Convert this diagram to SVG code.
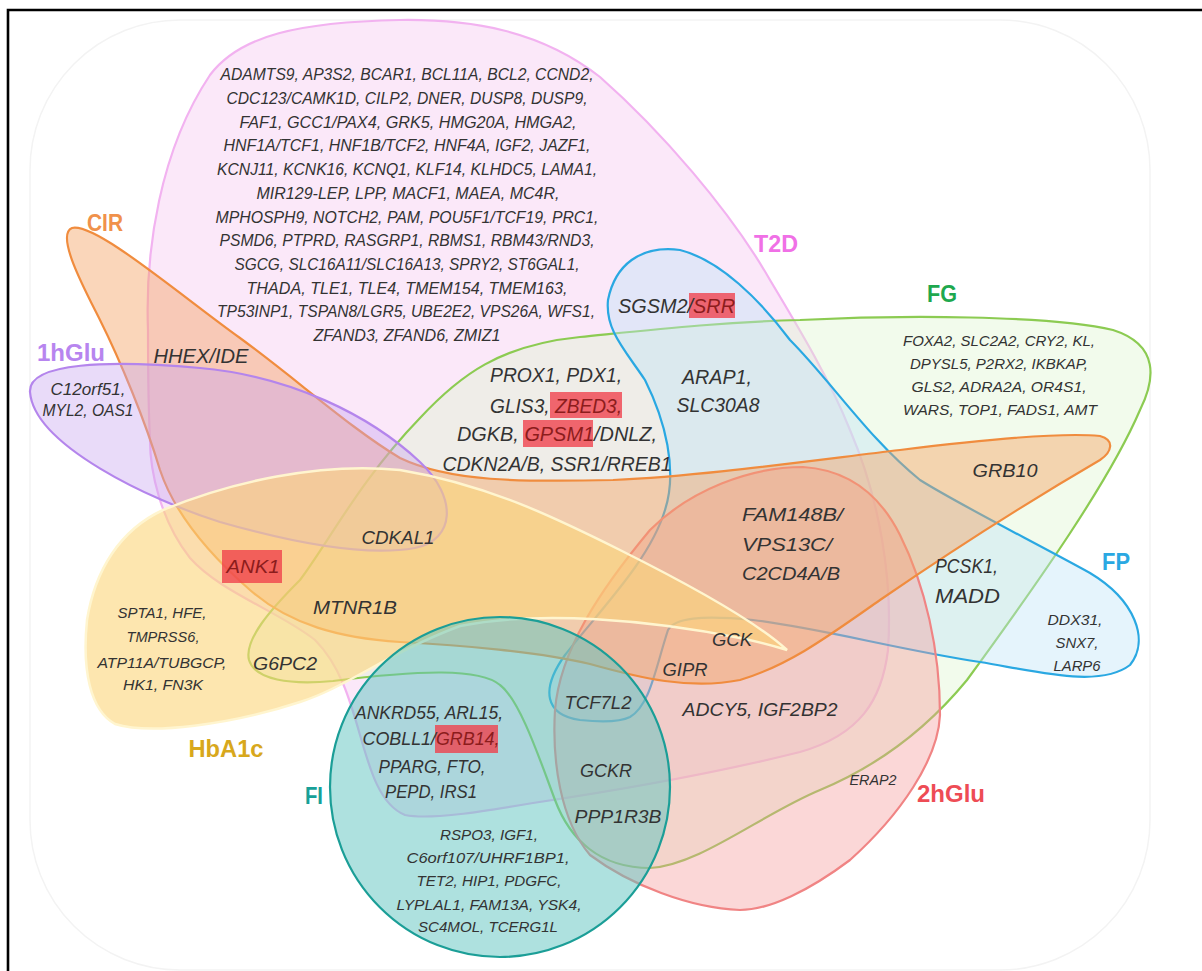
<svg xmlns="http://www.w3.org/2000/svg" width="1202" height="971" viewBox="0 0 1202 971">
<style>
.g{font-family:"Liberation Sans",Arial,sans-serif;font-style:italic;fill:#333}
.lab{font-family:"Liberation Sans",Arial,sans-serif;font-weight:bold}
.hl{fill:#ef3f4a;fill-opacity:0.78}
.ht{fill:#8c1c1c}
.set{stroke-width:2.2}
</style>
<rect x="0" y="0" width="1202" height="971" fill="#ffffff"/>
<rect x="30" y="20" width="1120" height="950" rx="150" fill="none" stroke="#f3f3f3" stroke-width="1.5"/>
<path d="M8,971 V10 H1202" fill="none" stroke="#000" stroke-width="2.6"/>

<g id="connectors"></g>

<g id="set-T2D">
<path class="set" d="M148,330 C145,250 160,150 210,75 C240,35 300,22 400,20 C470,19 540,30 600,77 C660,130 730,210 770,280 C800,330 830,380 850,430 C880,500 893,580 888,650 C882,700 860,735 800,752 C720,772 620,790 533,803 C480,812 430,820 405,815 C380,805 370,770 360,735 C350,700 340,665 315,640 C280,612 220,592 190,558 C160,520 150,470 150,440 C148,400 148,360 148,330 Z" fill="#f7d2f4" fill-opacity="0.5" stroke="#f2b2f0"/>
<text class="lab" x="776" y="252" font-size="24" text-anchor="middle" fill="#f070e6" textLength="44" lengthAdjust="spacingAndGlyphs">T2D</text>
</g>

<g id="set-FG">
<path class="set" d="M800,320 C900,315 1050,315 1113,330 C1160,345 1155,380 1140,410 C1110,480 1040,580 967,680 C930,725 880,765 820,790 C760,815 700,865 650,868 C600,868 570,840 555,800 C540,760 520,700 500,685 C480,668 420,670 333,681 C290,685 255,680 249,660 C244,640 270,610 300,580 C330,540 360,480 420,418 C460,375 500,345 580,337 C650,330 720,322 800,320 Z" fill="#dcf4cc" fill-opacity="0.38" stroke="#8ccb52"/>
<text class="lab" x="942" y="302" font-size="24" text-anchor="middle" fill="#1ea84e" textLength="30" lengthAdjust="spacingAndGlyphs">FG</text>
</g>

<g id="set-FP">
<path class="set" d="M630,717 C650,705 655,670 668,630 C675,618 700,615 753,620 C820,628 900,650 980,662 C1040,672 1100,688 1130,665 C1150,640 1135,600 1090,573 C1030,540 960,505 920,480 C870,440 830,380 790,340 C760,300 720,260 680,250 C640,245 615,265 608,300 C605,330 625,350 645,380 C665,420 678,470 665,510 C650,560 600,610 565,655 C540,690 545,715 580,720 C600,722 620,722 630,717 Z" fill="#bfe3f7" fill-opacity="0.4" stroke="#2aa8e2"/>
<text class="lab" x="1116" y="570" font-size="24" text-anchor="middle" fill="#2aa8e2" textLength="28" lengthAdjust="spacingAndGlyphs">FP</text>
</g>

<g id="set-2hGlu">
<path class="set" d="M803,467 C850,470 880,495 900,535 C925,585 940,650 940,715 C938,760 900,815 850,860 C810,890 770,910 740,910 C690,908 630,885 590,855 C560,820 552,760 555,710 C560,650 600,590 650,530 C690,490 750,467 803,467 Z" fill="#f59a9a" fill-opacity="0.4" stroke="#f08484"/>
<text class="lab" x="951" y="802" font-size="24" text-anchor="middle" fill="#ee4c55" textLength="68" lengthAdjust="spacingAndGlyphs">2hGlu</text>
</g>

<g id="set-CIR">
<path class="set" d="M72,228 C95,222 180,295 240,338 C300,382 350,428 400,458 C450,482 520,482 613,480 C700,476 800,462 900,450 C980,440 1060,432 1100,436 C1115,440 1112,452 1100,460 C1040,495 960,545 880,600 C830,635 790,665 740,680 C690,690 640,678 590,664 C540,652 460,645 400,642 C340,638 290,625 250,590 C210,555 175,515 160,470 C145,420 120,360 100,320 C85,290 55,235 72,228 Z" fill="#f4a366" fill-opacity="0.45" stroke="#f08c3e"/>
<text class="lab" x="105" y="231" font-size="24" text-anchor="middle" fill="#f0914b" textLength="36" lengthAdjust="spacingAndGlyphs">CIR</text>
</g>

<g id="set-1hGlu">
<path class="set" d="M30,392 C28,362 110,360 200,368 C290,376 370,415 420,462 C458,498 455,540 415,548 C370,556 300,545 220,522 C150,500 34,445 30,392 Z" fill="#c7a6f0" fill-opacity="0.4" stroke="#b485ec"/>
<text class="lab" x="71" y="361" font-size="24" text-anchor="middle" fill="#b785ef" textLength="68" lengthAdjust="spacingAndGlyphs">1hGlu</text>
</g>

<g id="set-HbA1c">
<path d="M787,650 C760,625 700,590 620,550 C560,520 490,485 400,470 C320,462 230,482 163,510 C120,530 95,570 87,620 C82,670 90,710 115,724 C150,735 230,725 300,702 C345,688 390,652 460,626 C540,610 650,620 740,638 C765,643 780,648 787,650 Z" fill="#fcd67a" fill-opacity="0.6" stroke="#fff5cf" stroke-width="2.5"/>
<text class="lab" x="226" y="757" font-size="24" text-anchor="middle" fill="#d8a81c" textLength="75" lengthAdjust="spacingAndGlyphs">HbA1c</text>
</g>

<g id="set-FI">
<circle class="set" cx="500" cy="787" r="170" fill="#5ec3bf" fill-opacity="0.5" stroke="#1b9e97"/>
<text class="lab" x="314" y="804" font-size="24" text-anchor="middle" fill="#17a098" textLength="18" lengthAdjust="spacingAndGlyphs">FI</text>
</g>

<g id="genes-T2D">
<text class="g" x="407" y="80" font-size="16" text-anchor="middle" textLength="373" lengthAdjust="spacingAndGlyphs">ADAMTS9, AP3S2, BCAR1, BCL11A, BCL2, CCND2,</text>
<text class="g" x="407" y="104" font-size="16" text-anchor="middle" textLength="361" lengthAdjust="spacingAndGlyphs">CDC123/CAMK1D, CILP2, DNER, DUSP8, DUSP9,</text>
<text class="g" x="408" y="128" font-size="16" text-anchor="middle" textLength="337" lengthAdjust="spacingAndGlyphs">FAF1, GCC1/PAX4, GRK5, HMG20A, HMGA2,</text>
<text class="g" x="407" y="151" font-size="16" text-anchor="middle" textLength="367" lengthAdjust="spacingAndGlyphs">HNF1A/TCF1, HNF1B/TCF2, HNF4A, IGF2, JAZF1,</text>
<text class="g" x="407" y="175" font-size="16" text-anchor="middle" textLength="380" lengthAdjust="spacingAndGlyphs">KCNJ11, KCNK16, KCNQ1, KLF14, KLHDC5, LAMA1,</text>
<text class="g" x="408" y="199" font-size="16" text-anchor="middle" textLength="303" lengthAdjust="spacingAndGlyphs">MIR129-LEP, LPP, MACF1, MAEA, MC4R,</text>
<text class="g" x="407" y="223" font-size="16" text-anchor="middle" textLength="383" lengthAdjust="spacingAndGlyphs">MPHOSPH9, NOTCH2, PAM, POU5F1/TCF19, PRC1,</text>
<text class="g" x="407" y="246" font-size="16" text-anchor="middle" textLength="375" lengthAdjust="spacingAndGlyphs">PSMD6, PTPRD, RASGRP1, RBMS1, RBM43/RND3,</text>
<text class="g" x="407" y="270" font-size="16" text-anchor="middle" textLength="345" lengthAdjust="spacingAndGlyphs">SGCG, SLC16A11/SLC16A13, SPRY2, ST6GAL1,</text>
<text class="g" x="407" y="294" font-size="16" text-anchor="middle" textLength="321" lengthAdjust="spacingAndGlyphs">THADA, TLE1, TLE4, TMEM154, TMEM163,</text>
<text class="g" x="406" y="317" font-size="16" text-anchor="middle" textLength="378" lengthAdjust="spacingAndGlyphs">TP53INP1, TSPAN8/LGR5, UBE2E2, VPS26A, WFS1,</text>
<text class="g" x="407" y="341" font-size="16" text-anchor="middle" textLength="187" lengthAdjust="spacingAndGlyphs">ZFAND3, ZFAND6, ZMIZ1</text>
</g>

<g id="genes-1hGlu">
<text class="g" x="88" y="395" font-size="16" text-anchor="middle" textLength="75" lengthAdjust="spacingAndGlyphs">C12orf51,</text>
<text class="g" x="88" y="416" font-size="16" text-anchor="middle" textLength="91" lengthAdjust="spacingAndGlyphs">MYL2, OAS1</text>
</g>

<g id="genes-CIR-T2D">
<text class="g" x="201" y="363" font-size="20" text-anchor="middle" textLength="95" lengthAdjust="spacingAndGlyphs">HHEX/IDE</text>
<text class="g" x="398" y="544" font-size="19" text-anchor="middle" textLength="73" lengthAdjust="spacingAndGlyphs">CDKAL1</text>
<rect class="hl" x="222" y="550" width="60" height="33"/>
<text class="g ht" x="253" y="573" font-size="19" text-anchor="middle" textLength="53" lengthAdjust="spacingAndGlyphs">ANK1</text>
<text class="g" x="355" y="614" font-size="19" text-anchor="middle" textLength="84" lengthAdjust="spacingAndGlyphs">MTNR1B</text>
<text class="g" x="285" y="670" font-size="19" text-anchor="middle" textLength="64" lengthAdjust="spacingAndGlyphs">G6PC2</text>
</g>

<g id="genes-HbA1c">
<text class="g" x="162" y="618" font-size="15" text-anchor="middle" textLength="89" lengthAdjust="spacingAndGlyphs">SPTA1, HFE,</text>
<text class="g" x="163" y="642" font-size="15" text-anchor="middle" textLength="73" lengthAdjust="spacingAndGlyphs">TMPRSS6,</text>
<text class="g" x="162" y="668" font-size="15" text-anchor="middle" textLength="129" lengthAdjust="spacingAndGlyphs">ATP11A/TUBGCP,</text>
<text class="g" x="163" y="690" font-size="15" text-anchor="middle" textLength="80" lengthAdjust="spacingAndGlyphs">HK1, FN3K</text>
</g>

<g id="genes-FG-T2D">
<rect class="hl" x="550" y="392" width="72" height="26"/>
<rect class="hl" x="523" y="420" width="70" height="27"/>
<text class="g" x="556" y="382" font-size="21" text-anchor="middle" textLength="132" lengthAdjust="spacingAndGlyphs">PROX1, PDX1,</text>
<text class="g" x="556" y="413" font-size="21" text-anchor="middle" textLength="132" lengthAdjust="spacingAndGlyphs">GLIS3, <tspan class="ht">ZBED3,</tspan></text>
<text class="g" x="557" y="441" font-size="21" text-anchor="middle" textLength="200" lengthAdjust="spacingAndGlyphs">DGKB, <tspan class="ht">GPSM1</tspan>/DNLZ,</text>
<text class="g" x="557" y="471" font-size="21" text-anchor="middle" textLength="229" lengthAdjust="spacingAndGlyphs">CDKN2A/B, SSR1/RREB1</text>
</g>

<g id="genes-FP">
<rect class="hl" x="689" y="293" width="46" height="25"/>
<text class="g" x="618" y="313" font-size="20" textLength="117" lengthAdjust="spacingAndGlyphs">SGSM2/<tspan class="ht">SRR</tspan></text>
<text class="g" x="717" y="384" font-size="20" text-anchor="middle" textLength="70" lengthAdjust="spacingAndGlyphs">ARAP1,</text>
<text class="g" x="718" y="412" font-size="20" text-anchor="middle" textLength="83" lengthAdjust="spacingAndGlyphs">SLC30A8</text>
<text class="g" x="1075" y="625" font-size="14" text-anchor="middle" textLength="55" lengthAdjust="spacingAndGlyphs">DDX31,</text>
<text class="g" x="1077" y="648" font-size="14" text-anchor="middle" textLength="43" lengthAdjust="spacingAndGlyphs">SNX7,</text>
<text class="g" x="1077" y="671" font-size="14" text-anchor="middle" textLength="47" lengthAdjust="spacingAndGlyphs">LARP6</text>
</g>

<g id="genes-FG">
<text class="g" x="999" y="346" font-size="15" text-anchor="middle" textLength="192" lengthAdjust="spacingAndGlyphs">FOXA2, SLC2A2, CRY2, KL,</text>
<text class="g" x="999" y="369" font-size="15" text-anchor="middle" textLength="178" lengthAdjust="spacingAndGlyphs">DPYSL5, P2RX2, IKBKAP,</text>
<text class="g" x="999" y="392" font-size="15" text-anchor="middle" textLength="175" lengthAdjust="spacingAndGlyphs">GLS2, ADRA2A, OR4S1,</text>
<text class="g" x="1000" y="415" font-size="15" text-anchor="middle" textLength="194" lengthAdjust="spacingAndGlyphs">WARS, TOP1, FADS1, AMT</text>
<text class="g" x="1005" y="477" font-size="19" text-anchor="middle" textLength="65" lengthAdjust="spacingAndGlyphs">GRB10</text>
<text class="g" x="935" y="573" font-size="20" textLength="63" lengthAdjust="spacingAndGlyphs">PCSK1,</text>
<text class="g" x="935" y="603" font-size="20" textLength="65" lengthAdjust="spacingAndGlyphs">MADD</text>
</g>

<g id="genes-2hGlu">
<text class="g" x="742" y="521" font-size="19" textLength="101" lengthAdjust="spacingAndGlyphs">FAM148B/</text>
<text class="g" x="742" y="551" font-size="19" textLength="90" lengthAdjust="spacingAndGlyphs">VPS13C/</text>
<text class="g" x="742" y="580" font-size="19" textLength="98" lengthAdjust="spacingAndGlyphs">C2CD4A/B</text>
<text class="g" x="732" y="646" font-size="19" text-anchor="middle" textLength="40" lengthAdjust="spacingAndGlyphs">GCK</text>
<text class="g" x="685" y="676" font-size="19" text-anchor="middle" textLength="45" lengthAdjust="spacingAndGlyphs">GIPR</text>
<text class="g" x="760" y="716" font-size="19" text-anchor="middle" textLength="155" lengthAdjust="spacingAndGlyphs">ADCY5, IGF2BP2</text>
<text class="g" x="598" y="709" font-size="19" text-anchor="middle" textLength="67" lengthAdjust="spacingAndGlyphs">TCF7L2</text>
<text class="g" x="606" y="777" font-size="19" text-anchor="middle" textLength="52" lengthAdjust="spacingAndGlyphs">GCKR</text>
<text class="g" x="618" y="823" font-size="19" text-anchor="middle" textLength="87" lengthAdjust="spacingAndGlyphs">PPP1R3B</text>
<text class="g" x="873" y="785" font-size="14" text-anchor="middle" textLength="47" lengthAdjust="spacingAndGlyphs">ERAP2</text>
</g>

<g id="genes-FI">
<rect class="hl" x="435" y="725" width="63" height="28"/>
<text class="g" x="429" y="719" font-size="19" text-anchor="middle" textLength="148" lengthAdjust="spacingAndGlyphs">ANKRD55, ARL15,</text>
<text class="g" x="431" y="745" font-size="19" text-anchor="middle" textLength="137" lengthAdjust="spacingAndGlyphs">COBLL1/<tspan class="ht">GRB14,</tspan></text>
<text class="g" x="432" y="773" font-size="19" text-anchor="middle" textLength="107" lengthAdjust="spacingAndGlyphs">PPARG, FTO,</text>
<text class="g" x="431" y="798" font-size="19" text-anchor="middle" textLength="92" lengthAdjust="spacingAndGlyphs">PEPD, IRS1</text>
<text class="g" x="489" y="840" font-size="15" text-anchor="middle" textLength="98" lengthAdjust="spacingAndGlyphs">RSPO3, IGF1,</text>
<text class="g" x="488" y="863" font-size="15" text-anchor="middle" textLength="163" lengthAdjust="spacingAndGlyphs">C6orf107/UHRF1BP1,</text>
<text class="g" x="489" y="886" font-size="15" text-anchor="middle" textLength="145" lengthAdjust="spacingAndGlyphs">TET2, HIP1, PDGFC,</text>
<text class="g" x="489" y="910" font-size="15" text-anchor="middle" textLength="185" lengthAdjust="spacingAndGlyphs">LYPLAL1, FAM13A, YSK4,</text>
<text class="g" x="488" y="932" font-size="15" text-anchor="middle" textLength="140" lengthAdjust="spacingAndGlyphs">SC4MOL, TCERG1L</text>
</g>
</svg>
